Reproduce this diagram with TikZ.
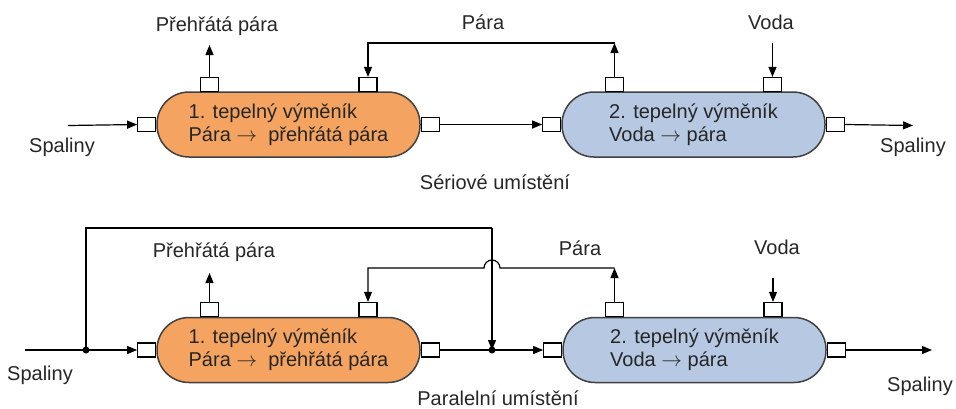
\documentclass[tikz,border=0pt]{standalone}
\usepackage{fontspec}
\setmainfont{Liberation Sans}
\usetikzlibrary{arrows.meta}
\definecolor{capor}{HTML}{F4A460}
\definecolor{capbl}{HTML}{B6C8E2}
\definecolor{edgegr}{HTML}{404040}
\newcommand{\rarr}{\ensuremath{\rightarrow}}
\begin{document}
\begin{tikzpicture}[x=1pt,y=-1pt,
  font=\fontsize{20}{23}\selectfont,
  capsule/.style={draw=edgegr,line width=1.5pt,rounded corners=32pt,minimum width=263pt,minimum height=65pt,align=left,inner sep=0pt,text=black!85},
  port/.style={draw=black,fill=white,line width=1.1pt,minimum width=18pt,minimum height=14pt,inner sep=0pt},
  arr/.style={-{Triangle[length=10pt,width=8pt]},line width=1.2pt},
  ln/.style={line width=1.2pt},
  lbl/.style={inner sep=0pt,text=black!85},
  dotn/.style={circle,fill=black,inner sep=0pt,minimum size=7pt}
]
\useasboundingbox (0,0) rectangle (956,408);

% ---------------- Serial (top) ----------------
\node[capsule,fill=capor] (sA) at (288.5,124.5) {1. tepelný výměník\\Pára \rarr\ \ přehřátá pára};
\node[capsule,fill=capbl] (sB) at (693.5,124.5) {2. tepelný výměník\\Voda \rarr\ pára};

\node[port,anchor=east] (sAin) at (sA.west) {};
\node[port,anchor=west] (sAout) at (sA.east) {};
\node[port,anchor=south] (sAt1) at (209.5,92) {};
\node[port,anchor=south] (sAt2) at (368,92) {};
\node[port,anchor=east] (sBin) at (sB.west) {};
\node[port,anchor=west] (sBout) at (sB.east) {};
\node[port,anchor=south] (sBt1) at (614.5,92) {};
\node[port,anchor=south] (sBt2) at (772.5,92) {};

\coordinate (sInStart) at (68,125.5);
\coordinate (sSteamOut) at (209.5,45);
\coordinate (sParaR) at (614.5,43);
\coordinate (sVodaTop) at (772.5,43);
\coordinate (sOutEnd) at (913,125.5);

\draw[arr] (sInStart) -- (sAin.west);
\draw[arr] (sAt1.north) -- (sSteamOut);
\draw[arr] (sBt1.north) -- (sParaR);
\draw[arr] (sParaR) -| (sAt2.north);
\draw[arr] (sVodaTop) -- (sBt2.north);
\draw[arr] (sAout.east) -- (sBin.west);
\draw[arr] (sBout.east) -- (sOutEnd);

\node[lbl] (sL1) at (217,26) {Přehřátá pára};
\node[lbl] (sL2) at (483,22) {Pára};
\node[lbl] (sL3) at (771,22) {Voda};
\node[lbl] (sL4) at (62,147) {Spaliny};
\node[lbl] (sL5) at (913,147) {Spaliny};
\node[lbl] (sL6) at (495,182) {Sériové umístění};

% ---------------- Parallel (bottom) ----------------
\node[capsule,fill=capor] (pA) at (288.5,350) {1. tepelný výměník\\Pára \rarr\ \ přehřátá pára};
\node[capsule,fill=capbl] (pB) at (694.5,350) {2. tepelný výměník\\Voda \rarr\ pára};

\node[port,anchor=east] (pAin) at (pA.west) {};
\node[port,anchor=west] (pAout) at (pA.east) {};
\node[port,anchor=south] (pAt1) at (209.5,317) {};
\node[port,anchor=south] (pAt2) at (368,317) {};
\node[port,anchor=east] (pBin) at (pB.west) {};
\node[port,anchor=west] (pBout) at (pB.east) {};
\node[port,anchor=south] (pBt1) at (614.5,317) {};
\node[port,anchor=south] (pBt2) at (773,317) {};

\coordinate (pInStart) at (25,350);
\node[dotn] (pD1) at (86,350) {};
\node[dotn] (pD2) at (492,350) {};
\coordinate (pByL) at (86,228);
\coordinate (pByR) at (492,228);
\coordinate (pSteamOut) at (209.5,273);
\coordinate (pParaR) at (614.5,268);
\coordinate (pJumpR) at (500,268);
\coordinate (pVodaTop) at (773,278);
\coordinate (pOutEnd) at (932,350);

\draw[ln] (pInStart) -- (pD1.center);
\draw[arr] (pD1.center) -- (pAin.west);
\draw[ln] (pD1.center) -- (pByL) -- (pByR);
\draw[arr] (pByR) -- (pD2.center);
\draw[ln] (pAout.east) -- (pD2.center);
\draw[arr] (pD2.center) -- (pBin.west);
\draw[arr] (pAt1.north) -- (pSteamOut);
\draw[arr] (pBt1.north) -- (pParaR);
\draw[arr] (pParaR) -- (pJumpR) arc[start angle=0,end angle=-180,radius=8] -| (pAt2.north);
\draw[arr] (pVodaTop) -- (pBt2.north);
\draw[arr] (pBout.east) -- (pOutEnd);

\node[lbl] (pL1) at (214,252) {Přehřátá pára};
\node[lbl] (pL2) at (580,248) {Pára};
\node[lbl] (pL3) at (777,247) {Voda};
\node[lbl] (pL4) at (40,375) {Spaliny};
\node[lbl] (pL5) at (920,386) {Spaliny};
\node[lbl] (pL6) at (498,398) {Paralelní umístění};
\end{tikzpicture}
\end{document}
